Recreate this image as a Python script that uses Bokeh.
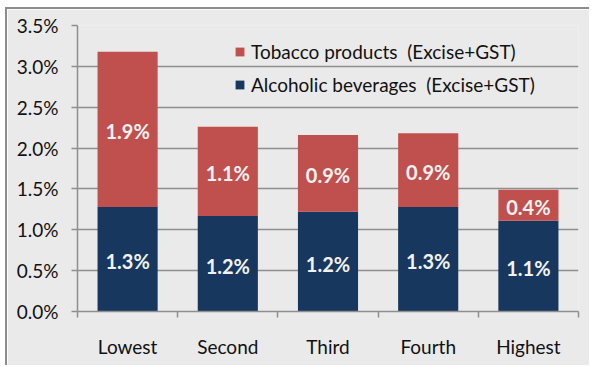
from bokeh.plotting import figure
from bokeh.models import (ColumnDataSource, FixedTicker, PrintfTickFormatter, Legend, LegendItem, Range1d)
from bokeh.embed import file_html
from bokeh.resources import INLINE
from bokeh.core.properties import value

categories = ["Lowest", "Second", "Third", "Fourth", "Highest"]
alcohol = [1.28, 1.17, 1.22, 1.28, 1.11]
tobacco = [1.90, 1.09, 0.94, 0.90, 0.38]
series_names = ["Alcoholic beverages  (Excise+GST)", "Tobacco products  (Excise+GST)"]
y_ticks = [0.0, 0.5, 1.0, 1.5, 2.0, 2.5, 3.0, 3.5]

FONT = "Lato"
ALC_COLOR = "#17375E"
TOB_COLOR = "#C0504D"
BG = "#EAEAEA"
GRID = "#8E8E8E"
TXT = "#111111"

n = len(categories)
xs = [i + 0.5 for i in range(n)]
src = ColumnDataSource(dict(
    x=xs, alc=alcohol, tob=tobacco,
    alc_mid=[a / 2 for a in alcohol],
    tob_mid=[a + t / 2 for a, t in zip(alcohol, tobacco)],
    alc_lbl=[f"{a:.1f}%" for a in alcohol],
    tob_lbl=[f"{t:.1f}%" for t in tobacco],
))

p = figure(width=584, height=358, output_backend="svg", toolbar_location=None,
           x_range=Range1d(0, n), y_range=Range1d(0, 3.5),
           min_border_left=70, min_border_right=13, min_border_top=16, min_border_bottom=56,
           background_fill_color=BG, border_fill_color=BG, outline_line_color=None,
           margin=(7, 0, 0, 5))
p.styles = {"border-left": "2px solid #8C8C8C", "border-top": "2px solid #8C8C8C"}

rs = p.vbar_stack(["alc", "tob"], x="x", width=0.6, source=src,
                  color=[ALC_COLOR, TOB_COLOR], line_color=None)

for ycol, tcol in (("alc_mid", "alc_lbl"), ("tob_mid", "tob_lbl")):
    p.text(x="x", y=ycol, text=tcol, source=src, text_align="center",
           text_baseline="middle", text_color="#F2F2F2", text_font=value(FONT),
           text_font_style="bold", text_font_size="20px", y_offset=2)

# axes
p.xaxis.ticker = FixedTicker(ticks=xs, minor_ticks=list(range(n + 1)))
p.xaxis.major_label_overrides = {x: c for x, c in zip(xs, categories)}
p.xaxis.major_tick_line_color = None
p.xaxis.major_tick_out = 0
p.xaxis.major_tick_in = 0
p.xaxis.minor_tick_out = 6
p.xaxis.minor_tick_in = 0
p.xaxis.minor_tick_line_color = GRID
p.xaxis.minor_tick_line_width = 1.5
p.xaxis.major_label_standoff = 17

p.yaxis.ticker = FixedTicker(ticks=y_ticks)
p.yaxis.formatter = PrintfTickFormatter(format="%.1f%%")
p.yaxis.major_tick_out = 6
p.yaxis.major_tick_in = 0
p.yaxis.minor_tick_line_color = None
p.yaxis.major_tick_line_color = GRID
p.yaxis.major_tick_line_width = 1.5
p.yaxis.major_label_standoff = 13

for ax in (p.xaxis, p.yaxis):
    ax.axis_line_color = GRID
    ax.axis_line_width = 1.5
    ax.major_label_text_font = FONT
    ax.major_label_text_font_size = "19px"
    ax.major_label_text_color = TXT

p.xgrid.grid_line_color = None
p.ygrid.grid_line_color = GRID
p.ygrid.grid_line_width = 1.5
p.ygrid.ticker = FixedTicker(ticks=y_ticks)

legend = Legend(items=[LegendItem(label=series_names[1], renderers=[rs[1]]),
                       LegendItem(label=series_names[0], renderers=[rs[0]])],
                location=(157, 215), orientation="vertical",
                background_fill_alpha=0, border_line_color=None,
                padding=0, margin=0, spacing=10, label_height=22,
                glyph_width=11, glyph_height=11, label_standoff=6,
                label_text_font=FONT, label_text_font_size="19px",
                label_text_color=TXT)
p.add_layout(legend)

open("out.html", "w").write(file_html(p, INLINE))
